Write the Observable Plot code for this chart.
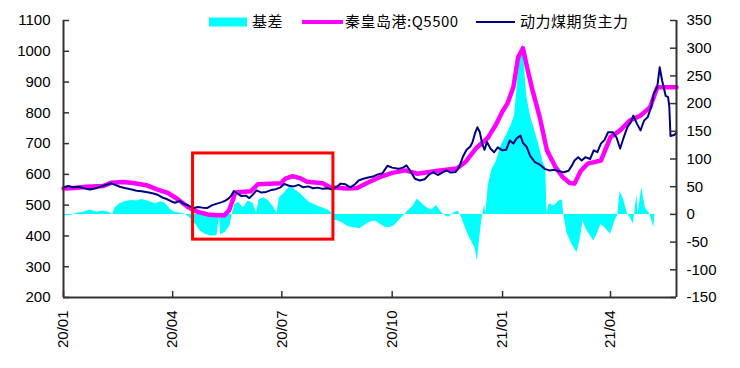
<!DOCTYPE html>
<html>
<head>
<meta charset="utf-8">
<script src="https://cdn.jsdelivr.net/npm/d3@7"></script>
<script src="https://cdn.jsdelivr.net/npm/@observablehq/plot@0.6"></script>
<style>
  html, body { margin: 0; padding: 0; background: #fff; }
  #chart { width: 740px; height: 368px; }
</style>
</head>
<body>
<div id="chart"></div>
<script>
// ---------- data ----------
const seriesNames = ["基差", "秦皇岛港:Q5500", "动力煤期货主力"];

// 动力煤期货主力 (left axis)
const futures = [
["2020-01-01",558],["2020-01-05",562],["2020-01-09",558],["2020-01-14",560],["2020-01-18",555],["2020-01-23",551],["2020-01-29",556],["2020-02-03",563],["2020-02-07",568],["2020-02-10",571],["2020-02-13",566],["2020-02-17",560],["2020-02-21",556],["2020-02-26",552],["2020-03-02",547],["2020-03-06",545],["2020-03-11",542],["2020-03-16",538],["2020-03-20",533],["2020-03-24",524],["2020-03-27",520],["2020-03-31",512],["2020-04-03",508],["2020-04-07",514],["2020-04-10",505],["2020-04-14",499],["2020-04-18",490],["2020-04-22",494],["2020-04-26",492],["2020-04-30",491],["2020-05-04",500],["2020-05-08",505],["2020-05-12",510],["2020-05-15",515],["2020-05-18",523],["2020-05-20",532],["2020-05-22",546],["2020-05-25",538],["2020-05-28",530],["2020-06-01",531],["2020-06-04",523],["2020-06-07",535],["2020-06-10",548],["2020-06-14",541],["2020-06-18",543],["2020-06-22",549],["2020-06-26",552],["2020-06-30",558],["2020-07-03",569],["2020-07-07",563],["2020-07-11",561],["2020-07-15",566],["2020-07-19",558],["2020-07-23",561],["2020-07-27",555],["2020-07-31",557],["2020-08-04",553],["2020-08-08",555],["2020-08-12",551],["2020-08-16",560],["2020-08-19",570],["2020-08-23",568],["2020-08-27",558],["2020-08-31",568],["2020-09-03",580],["2020-09-07",586],["2020-09-11",590],["2020-09-15",593],["2020-09-19",600],["2020-09-23",604],["2020-09-27",628],["2020-10-01",622],["2020-10-06",618],["2020-10-10",622],["2020-10-13",629],["2020-10-16",612],["2020-10-20",586],["2020-10-24",580],["2020-10-28",584],["2020-11-01",600],["2020-11-04",607],["2020-11-08",598],["2020-11-11",604],["2020-11-15",613],["2020-11-19",606],["2020-11-23",608],["2020-11-26",625],["2020-11-29",658],["2020-12-02",680],["2020-12-05",690],["2020-12-07",705],["2020-12-09",733],["2020-12-11",753],["2020-12-13",738],["2020-12-15",700],["2020-12-17",680],["2020-12-19",705],["2020-12-22",683],["2020-12-25",672],["2020-12-28",688],["2021-01-01",678],["2021-01-04",680],["2021-01-07",710],["2021-01-10",700],["2021-01-13",718],["2021-01-16",726],["2021-01-18",702],["2021-01-21",690],["2021-01-24",660],["2021-01-28",640],["2021-02-01",632],["2021-02-05",618],["2021-02-09",613],["2021-02-13",615],["2021-02-17",610],["2021-02-21",607],["2021-02-25",612],["2021-02-28",630],["2021-03-02",645],["2021-03-05",656],["2021-03-08",645],["2021-03-11",656],["2021-03-15",650],["2021-03-18",678],["2021-03-21",672],["2021-03-24",700],["2021-03-27",712],["2021-03-30",737],["2021-04-03",737],["2021-04-06",720],["2021-04-09",684],["2021-04-12",720],["2021-04-15",753],["2021-04-18",770],["2021-04-20",791],["2021-04-23",765],["2021-04-26",743],["2021-04-29",775],["2021-05-02",786],["2021-05-05",820],["2021-05-07",862],["2021-05-10",885],["2021-05-12",948],["2021-05-14",905],["2021-05-17",855],["2021-05-19",851],["2021-05-20",820],["2021-05-21",725],["2021-05-24",728],["2021-05-26",735]
];

// 秦皇岛港:Q5500 (left axis)
const spot = [
["2020-01-01",554],["2020-01-10",556],["2020-01-20",560],["2020-02-03",562],["2020-02-10",573],["2020-02-20",575],["2020-02-28",572],["2020-03-10",565],["2020-03-20",550],["2020-03-28",540],["2020-04-05",520],["2020-04-14",493],["2020-04-22",478],["2020-04-30",470],["2020-05-08",467],["2020-05-14",467],["2020-05-18",483],["2020-05-21",515],["2020-05-23",541],["2020-06-05",545],["2020-06-11",568],["2020-06-30",571],["2020-07-04",586],["2020-07-10",594],["2020-07-16",588],["2020-07-22",576],["2020-08-04",571],["2020-08-10",558],["2020-08-24",554],["2020-09-02",556],["2020-09-10",572],["2020-09-20",590],["2020-10-01",605],["2020-10-12",613],["2020-10-22",602],["2020-11-08",612],["2020-11-24",619],["2020-12-01",640],["2020-12-10",685],["2020-12-20",720],["2020-12-27",765],["2021-01-01",805],["2021-01-05",830],["2021-01-10",883],["2021-01-14",981],["2021-01-18",1010],["2021-01-22",938],["2021-01-26",873],["2021-02-01",786],["2021-02-07",678],["2021-02-14",625],["2021-02-20",592],["2021-02-26",572],["2021-03-02",570],["2021-03-07",610],["2021-03-13",635],["2021-03-24",645],["2021-04-01",721],["2021-04-09",743],["2021-04-17",775],["2021-04-26",791],["2021-05-04",818],["2021-05-10",883],["2021-05-26",883]
];

// 基差 (right axis)
const basis = [
["2020-01-01",-3],["2020-01-07",-2],["2020-01-12",2],["2020-01-18",4],["2020-01-23",8],["2020-01-29",4],["2020-02-03",6],["2020-02-08",4],["2020-02-11",0],["2020-02-13",12],["2020-02-17",19],["2020-02-21",23],["2020-02-26",25],["2020-03-02",24],["2020-03-06",27],["2020-03-10",25],["2020-03-14",22],["2020-03-18",19],["2020-03-22",23],["2020-03-26",20],["2020-03-30",9],["2020-04-03",4],["2020-04-08",2],["2020-04-12",0],["2020-04-16",-8],["2020-04-20",-18],["2020-04-24",-30],["2020-04-28",-36],["2020-05-03",-39],["2020-05-08",-38],["2020-05-10",-2],["2020-05-11",-37],["2020-05-15",-32],["2020-05-19",-20],["2020-05-21",4],["2020-05-23",18],["2020-05-26",22],["2020-05-30",12],["2020-06-03",24],["2020-06-07",20],["2020-06-10",2],["2020-06-12",26],["2020-06-16",30],["2020-06-20",24],["2020-06-24",14],["2020-06-27",2],["2020-06-29",30],["2020-07-03",38],["2020-07-08",51],["2020-07-12",44],["2020-07-16",38],["2020-07-20",30],["2020-07-24",22],["2020-07-28",18],["2020-08-01",14],["2020-08-06",10],["2020-08-11",5],["2020-08-13",-10],["2020-08-17",-12],["2020-08-21",-16],["2020-08-25",-22],["2020-08-30",-24],["2020-09-04",-26],["2020-09-08",-20],["2020-09-12",-14],["2020-09-17",-12],["2020-09-21",-18],["2020-09-25",-23],["2020-09-29",-24],["2020-10-03",-20],["2020-10-08",-8],["2020-10-11",-2],["2020-10-14",6],["2020-10-18",14],["2020-10-22",28],["2020-10-26",19],["2020-10-30",12],["2020-11-03",8],["2020-11-07",16],["2020-11-11",4],["2020-11-14",-2],["2020-11-17",-5],["2020-11-21",2],["2020-11-25",6],["2020-11-28",-6],["2020-12-01",-24],["2020-12-04",-40],["2020-12-07",-52],["2020-12-09",-60],["2020-12-11",-84],["2020-12-13",-42],["2020-12-15",-6],["2020-12-17",18],["2020-12-18",0],["2020-12-20",50],["2020-12-23",80],["2020-12-27",97],["2020-12-31",125],["2021-01-04",142],["2021-01-08",160],["2021-01-11",178],["2021-01-14",250],["2021-01-16",285],["2021-01-18",308],["2021-01-21",215],["2021-01-24",180],["2021-01-28",150],["2021-02-01",120],["2021-02-04",92],["2021-02-06",85],["2021-02-07",2],["2021-02-09",19],["2021-02-13",15],["2021-02-17",24],["2021-02-20",26],["2021-02-21",0],["2021-02-24",-36],["2021-02-28",-55],["2021-03-04",-69],["2021-03-07",-42],["2021-03-09",-12],["2021-03-12",-28],["2021-03-15",-38],["2021-03-18",-48],["2021-03-22",-30],["2021-03-24",-18],["2021-03-28",-26],["2021-04-01",-36],["2021-04-05",-10],["2021-04-07",-2],["2021-04-09",42],["2021-04-12",26],["2021-04-15",2],["2021-04-18",-8],["2021-04-20",-18],["2021-04-23",36],["2021-04-24",0],["2021-04-27",48],["2021-04-30",12],["2021-05-04",0],["2021-05-07",-24],["2021-05-08",0]
];

const xDomain = ["2020-01-01", "2021-05-26"];
const xTicks = ["2020-01-01","2020-04-01","2020-07-01","2020-10-01","2021-01-01","2021-04-01"];
const leftTicks = [200,300,400,500,600,700,800,900,1000,1100];
const rightTicks = [-150,-100,-50,0,50,100,150,200,250,300,350];
// highlighted window (red box): dates and left-axis values
const highlight = [{start: "2020-04-18", end: "2020-08-13", low: 388, high: 668}];

// ---------- helpers ----------
const parse = d3.utcParse("%Y-%m-%d");
const L = [200, 1100], R = [-150, 350];
const toLeft = b => L[0] + (b - R[0]) * (L[1] - L[0]) / (R[1] - R[0]);
const fromLeft = v => R[0] + (v - L[0]) * (R[1] - R[0]) / (L[1] - L[0]);

const W = 740, H = 368, mL = 63, mR = 64, mT = 20, mB = 71;
const innerW = W - mL - mR, innerH = H - mT - mB;
const axisColor = "#333";
const tickLen = 6;

const plot = Plot.plot({
  width: W, height: H,
  marginLeft: mL, marginRight: mR, marginTop: mT, marginBottom: mB,
  style: {fontFamily: "'Liberation Sans', Arial, sans-serif", fontSize: "15px", color: "#000", background: "#fff"},
  x: {type: "utc", domain: xDomain.map(parse)},
  y: {domain: L},
  marks: [
    Plot.areaY(basis, {x: d => parse(d[0]), y1: () => toLeft(0), y2: d => toLeft(d[1]), fill: "#00ffff"}),
    Plot.line(spot, {x: d => parse(d[0]), y: d => d[1], stroke: "#ff00ff", strokeWidth: 4.5}),
    Plot.line(futures, {x: d => parse(d[0]), y: d => d[1], stroke: "#000080", strokeWidth: 2}),
    Plot.rect(highlight, {x1: d => parse(d.start), x2: d => parse(d.end), y1: "low", y2: "high", fill: "none", stroke: "#ff0000", strokeWidth: 3}),
    // axis lines
    Plot.ruleX([parse(xDomain[0]), parse(xDomain[1])], {stroke: axisColor, strokeWidth: 2}),
    Plot.ruleY([L[0]], {stroke: axisColor, strokeWidth: 2}),
    // inward ticks
    Plot.tickY(leftTicks, {y: d => d, insetRight: innerW - tickLen, stroke: axisColor, strokeWidth: 1.5}),
    Plot.tickY(rightTicks.map(toLeft), {y: d => d, insetLeft: innerW - tickLen, stroke: axisColor, strokeWidth: 1.5}),
    Plot.tickX(xTicks.map(parse), {x: d => d, insetTop: innerH - tickLen, stroke: axisColor, strokeWidth: 1.5}),
    // labels
    Plot.axisY(leftTicks, {anchor: "left", tickSize: 0, tickPadding: 13, label: null, tickFormat: d => String(d)}),
    Plot.axisY(rightTicks.map(toLeft), {anchor: "right", tickSize: 0, tickPadding: 10, label: null,
      tickFormat: v => String(Math.round(fromLeft(v)))}),
    Plot.axisX(xTicks.map(parse), {anchor: "bottom", tickSize: 0, tickPadding: 13, tickRotate: -90, label: null,
      tickFormat: d3.utcFormat("%y/%m")})
  ]
});

document.getElementById("chart").appendChild(plot);

// ---------- legend ----------
const svg = d3.select(plot);
const lg = svg.append("g")
  .attr("font-family", "'Noto Sans CJK SC', sans-serif")
  .attr("font-size", 15)
  .attr("fill", "#000")
  .attr("text-anchor", "start");
const legendItems = [
  {name: seriesNames[0], kind: "rect", color: "#00ffff", x0: 209, x1: 247, tx: 252},
  {name: seriesNames[1], kind: "line", color: "#ff00ff", w: 4, x0: 302, x1: 343, tx: 345},
  {name: seriesNames[2], kind: "line", color: "#000080", w: 2, x0: 476, x1: 515, tx: 520}
];
const ly = 22;
for (const it of legendItems) {
  if (it.kind === "rect") {
    lg.append("rect").attr("x", it.x0).attr("y", ly - 4.5).attr("width", it.x1 - it.x0).attr("height", 9).attr("fill", it.color);
  } else {
    lg.append("line").attr("x1", it.x0).attr("x2", it.x1).attr("y1", ly).attr("y2", ly)
      .attr("stroke", it.color).attr("stroke-width", it.w);
  }
  lg.append("text").attr("x", it.tx).attr("y", ly).attr("dy", "0.35em").attr("letter-spacing", "0.5px").text(it.name);
}
</script>
</body>
</html>
